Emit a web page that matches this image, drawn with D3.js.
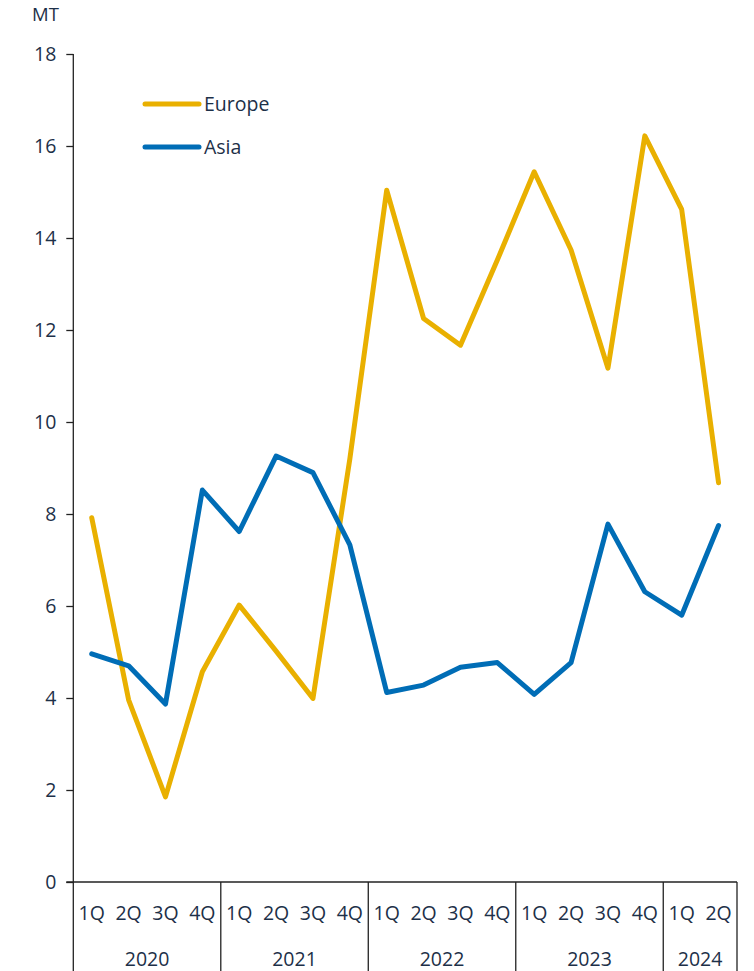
<!DOCTYPE html>
<html>
<head>
<meta charset="utf-8">
<script src="https://cdn.jsdelivr.net/npm/d3@7"></script>
<style>
  body { margin: 0; background: #fff; }
  text { font-family: "Open Sans", "Noto Sans", sans-serif; fill: #1d3048; }
</style>
</head>
<body>
<script>
var quarters = ['1Q','2Q','3Q','4Q','1Q','2Q','3Q','4Q','1Q','2Q','3Q','4Q','1Q','2Q','3Q','4Q','1Q','2Q'];
var years = ['2020', '2021', '2022', '2023', '2024'];
var yearSpan = [4, 4, 4, 4, 2];
var europe = [7.92, 3.96, 1.85, 4.57, 6.02, 5.02, 3.99, 9.2, 15.04, 12.25, 11.67, 13.52, 15.44, 13.74, 11.17, 16.22, 14.62, 8.68];
var asia = [4.96, 4.70, 3.87, 8.52, 7.62, 9.26, 8.90, 7.33, 4.12, 4.28, 4.67, 4.77, 4.08, 4.77, 7.78, 6.31, 5.80, 7.75];
var yTicks = [0, 2, 4, 6, 8, 10, 12, 14, 16, 18];

var width = 754, height = 971;
var x0 = 73.3, x1 = 737, yTop = 54, yBot = 882;
var fs = '19.5px';

var svg = d3.select('body').append('svg')
    .attr('width', width)
    .attr('height', height);

var idx = d3.range(quarters.length);
var x = d3.scaleBand().domain(idx).range([x0, x1]).padding(0);
var y = d3.scaleLinear().domain([0, 18]).range([yBot, yTop]);
var cx = function(i) { return x(i) + x.bandwidth() / 2; };

// y axis
var yAxis = svg.append('g')
    .attr('transform', 'translate(' + x0 + ',0)')
    .call(d3.axisLeft(y).tickValues(yTicks).tickSize(7).tickPadding(10));
yAxis.select('.domain').attr('stroke', '#222').attr('stroke-width', 1.3)
    .attr('d', 'M0,' + yTop + 'V' + height);
yAxis.selectAll('.tick line').attr('stroke', '#222').attr('stroke-width', 1.3);
yAxis.selectAll('.tick text').style('font-size', fs)
    .style('font-family', '"Open Sans", "Noto Sans", sans-serif').attr('fill', '#1d3048');

svg.append('text').attr('x', 32).attr('y', 21).style('font-size', '18.5px').text('MT');

// x axis line
svg.append('line').attr('x1', x0 - 7).attr('x2', x1).attr('y1', yBot).attr('y2', yBot)
    .attr('stroke', '#222').attr('stroke-width', 1.3);

// quarter labels
svg.append('g').selectAll('text')
    .data(quarters)
  .enter().append('text')
    .attr('x', function(d, i) { return cx(i); })
    .attr('y', 920)
    .attr('text-anchor', 'middle')
    .style('font-size', fs)
    .text(function(d) { return d; });

// year groups
var start = 0;
var groups = years.map(function(yr, k) {
  var g = { year: yr, s: start, e: start + yearSpan[k] };
  start += yearSpan[k];
  return g;
});
svg.append('g').selectAll('line')
    .data(groups)
  .enter().append('line')
    .attr('x1', function(d) { return x(d.e - 1) + x.bandwidth(); })
    .attr('x2', function(d) { return x(d.e - 1) + x.bandwidth(); })
    .attr('y1', yBot).attr('y2', height)
    .attr('stroke', '#222').attr('stroke-width', 1.3);
svg.append('g').selectAll('text')
    .data(groups)
  .enter().append('text')
    .attr('x', function(d) { return (x(d.s) + x(d.e - 1) + x.bandwidth()) / 2; })
    .attr('y', 966)
    .attr('text-anchor', 'middle')
    .style('font-size', fs)
    .text(function(d) { return d.year; });

// lines
var line = d3.line().x(function(d, i) { return cx(i); }).y(function(d) { return y(d); });
var series = [
  { name: 'Europe', values: europe, color: '#E9B000' },
  { name: 'Asia', values: asia, color: '#006DB6' }
];
svg.append('g').selectAll('path')
    .data(series)
  .enter().append('path')
    .attr('fill', 'none')
    .attr('stroke', function(d) { return d.color; })
    .attr('stroke-width', 5)
    .attr('stroke-linecap', 'round')
    .attr('stroke-linejoin', 'round')
    .attr('d', function(d) { return line(d.values); });

// legend
var leg = svg.append('g').selectAll('g')
    .data(series)
  .enter().append('g')
    .attr('transform', function(d, i) { return 'translate(145,' + (104 + i * 43) + ')'; });
leg.append('line').attr('x1', 0).attr('x2', 54).attr('y1', 0).attr('y2', 0)
    .attr('stroke', function(d) { return d.color; })
    .attr('stroke-width', 5).attr('stroke-linecap', 'round');
leg.append('text').attr('x', 59).attr('y', 7).style('font-size', fs)
    .text(function(d) { return d.name; });
</script>
</body>
</html>
